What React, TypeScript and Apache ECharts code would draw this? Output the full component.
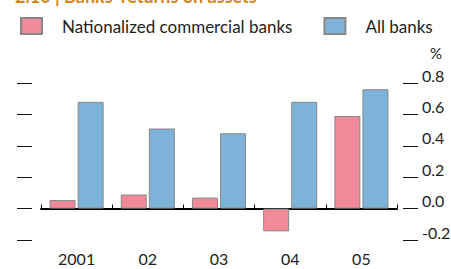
import React, { useEffect, useRef } from "react";
import * as echarts from "echarts";

const categories = ["2001", "02", "03", "04", "05"];
const nationalized = [0.055, 0.09, 0.07, -0.145, 0.59];
const allBanks = [0.68, 0.51, 0.48, 0.68, 0.76];
const seriesNames = ["Nationalized commercial banks", "All banks"];
const titleText = "2.10 | Banks' returns on assets";

const FONT = "Lato, 'Liberation Sans', sans-serif";

export default function App() {
  const ref = useRef<HTMLDivElement>(null);
  useEffect(() => {
    if (!ref.current) return;
    const chart = echarts.init(ref.current, undefined, { renderer: "svg" });
    const yCommon = {
      type: "value" as const,
      min: -0.2,
      max: 0.8,
      interval: 0.2,
      splitLine: { show: false },
      axisLine: { show: false },
      axisTick: { show: true, length: 15, lineStyle: { color: "#111", width: 1 } },
    };
    chart.setOption({
      animation: false,
      textStyle: { fontFamily: FONT },
      grid: {
        left: 41,
        right: 54,
        top: 83,
        bottom: 29,
        containLabel: false,
        outerBoundsMode: "none",
      },
      legend: {
        left: 20,
        top: 17,
        padding: 0,
        itemWidth: 21,
        itemHeight: 16,
        itemGap: 31,
        icon: "rect",
        textStyle: { fontFamily: FONT, fontSize: 17, color: "#222", padding: [0, 0, 0, 15] },
        data: seriesNames,
      },
      graphic: [
        {
          type: "text",
          left: 15,
          top: -13,
          style: { text: titleText, font: "bold 18px " + FONT, fill: "#D4861A" },
        },
        {
          type: "text",
          left: 430,
          top: 45,
          style: { text: "%", font: "15px " + FONT, fill: "#222" },
        },
      ],
      xAxis: {
        type: "category",
        data: categories,
        axisLine: { onZero: true, lineStyle: { color: "#000", width: 2 } },
        axisTick: { show: true, inside: true, length: 4, lineStyle: { color: "#000", width: 1 } },
        axisLabel: { margin: 10, fontSize: 16, color: "#222", fontFamily: FONT },
      },
      yAxis: [
        {
          ...yCommon,
          position: "left",
          offset: 9,
          axisLabel: { show: false },
        },
        {
          ...yCommon,
          position: "right",
          offset: 6,
          axisLabel: {
            show: true,
            margin: 19,
            fontSize: 16,
            color: "#222",
            fontFamily: FONT,
            verticalAlign: "bottom",
            formatter: (v: number) => v.toFixed(1),
          },
        },
      ],
      series: [
        {
          name: seriesNames[0],
          type: "bar",
          data: nationalized,
          barWidth: 26,
          barGap: "8%",
          itemStyle: { color: "#F08A98", borderColor: "#888", borderWidth: 1 },
        },
        {
          name: seriesNames[1],
          type: "bar",
          data: allBanks,
          barWidth: 26,
          barGap: "8%",
          itemStyle: { color: "#7DB3D9", borderColor: "#888", borderWidth: 1 },
        },
      ],
    });
    return () => chart.dispose();
  }, []);
  return (
    <div
      ref={ref}
      style={{ position: "fixed", left: 0, top: 0, width: 451, height: 269, background: "#fff" }}
    />
  );
}
